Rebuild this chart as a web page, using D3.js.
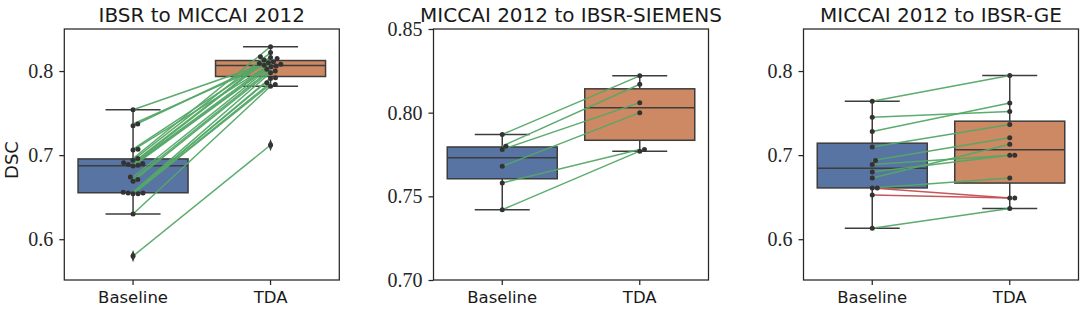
<!DOCTYPE html>
<html>
<head>
<meta charset="utf-8">
<script src="https://cdn.jsdelivr.net/npm/d3@7/dist/d3.min.js"></script>
<style>
  body { margin: 0; background: #fff; }
</style>
</head>
<body>
<svg id="chart"></svg>
<script>
const groups = ["Baseline", "TDA"];

// one value per subject, same subject order in the baseline and TDA arrays
const ibsrToMiccaiBaseline = [0.754, 0.737, 0.735, 0.707, 0.706, 0.696, 0.694, 0.691, 0.690, 0.689, 0.688,
                              0.687, 0.674, 0.671, 0.669, 0.656, 0.655, 0.655, 0.654, 0.654, 0.630, 0.580];
const ibsrToMiccaiTda = [0.811, 0.810, 0.813, 0.815, 0.808, 0.829, 0.822, 0.817, 0.816, 0.809, 0.807,
                         0.806, 0.805, 0.802, 0.800, 0.798, 0.792, 0.791, 0.786, 0.784, 0.782, 0.712];

const miccaiToSiemensBaseline = [0.787, 0.780, 0.778, 0.768, 0.758, 0.742];
const miccaiToSiemensTda = [0.822, 0.817, 0.806, 0.800, 0.778, 0.777];

const miccaiToGeBaseline = [0.764, 0.745, 0.728, 0.7096, 0.6935, 0.689, 0.680, 0.6727, 0.661, 0.661, 0.6526, 0.613];
const miccaiToGeTda = [0.7946, 0.752, 0.762, 0.7365, 0.7206, 0.700, 0.700, 0.713, 0.6727, 0.649, 0.649, 0.6366];

const wideDomain = [0.5515, 0.85];
const wideTicks = [0.6, 0.7, 0.8];
const narrowDomain = [0.70, 0.85];
const narrowTicks = [0.70, 0.75, 0.80, 0.85];

const width = 1084;
const height = 314;
const plotTop = 29, plotBottom = 280, panelWidth = 275;

const panels = [
    { title: "IBSR to MICCAI 2012", base: ibsrToMiccaiBaseline, tda: ibsrToMiccaiTda,
      domain: wideDomain, ticks: wideTicks, fmt: ".1f", left: 64.3 },
    { title: "MICCAI 2012 to IBSR-SIEMENS", base: miccaiToSiemensBaseline, tda: miccaiToSiemensTda,
      domain: narrowDomain, ticks: narrowTicks, fmt: ".2f", left: 433.5 },
    { title: "MICCAI 2012 to IBSR-GE", base: miccaiToGeBaseline, tda: miccaiToGeTda,
      domain: wideDomain, ticks: wideTicks, fmt: ".1f", left: 803.5 }
];

const boxColors = ["#5874a3", "#cc8963"];
const edge = "#3d3d3d";
const up = "#55a868", down = "#c44e52";
const r = 2.5;
const serif = "'Liberation Serif', 'Times New Roman', 'DejaVu Serif', serif";
const sans = "'DejaVu Sans', sans-serif";

const svg = d3.select("#chart").attr("width", width).attr("height", height);

// beeswarm: each point goes to the smallest offset that does not overlap earlier ones
function swarm(values, y) {
    const placed = [];
    const pts = values.map(v => ({ v, y: y(v) })).sort((a, b) => b.y - a.y);
    pts.forEach(p => {
        const near = placed.filter(q => Math.abs(q.y - p.y) < 2 * r);
        const cands = [0];
        near.forEach(q => {
            const dx = Math.sqrt(4 * r * r - (q.y - p.y) ** 2);
            cands.push(q.dx + dx, q.dx - dx);
        });
        cands.sort((a, b) => Math.abs(a) - Math.abs(b));
        p.dx = cands.find(c => near.every(q => (q.dx - c) ** 2 + (q.y - p.y) ** 2 >= 4 * r * r - 0.01));
        placed.push(p);
    });
    return pts;
}

function boxStats(values) {
    const s = values.slice().sort(d3.ascending);
    const q1 = d3.quantile(s, 0.25), med = d3.quantile(s, 0.5), q3 = d3.quantile(s, 0.75);
    const iqr = q3 - q1;
    const lo = d3.min(s.filter(v => v >= q1 - 1.5 * iqr));
    const hi = d3.max(s.filter(v => v <= q3 + 1.5 * iqr));
    const fliers = s.filter(v => v < lo || v > hi);
    return { q1, med, q3, lo, hi, fliers };
}

panels.forEach(p => {
    const x = d3.scaleBand().domain(groups).range([p.left, p.left + panelWidth]).paddingInner(0).paddingOuter(0);
    const cx = g => x(g) + x.bandwidth() / 2;
    const y = d3.scaleLinear().domain(p.domain).range([plotBottom, plotTop]);
    const g = svg.append("g");
    const boxW = x.bandwidth() * 0.8;

    [p.base, p.tda].forEach((vals, i) => {
        const st = boxStats(vals);
        const c = cx(groups[i]);
        g.append("line").attr("x1", c).attr("x2", c).attr("y1", y(st.q3)).attr("y2", y(st.hi))
            .attr("stroke", edge).attr("stroke-width", 1.5);
        g.append("line").attr("x1", c).attr("x2", c).attr("y1", y(st.q1)).attr("y2", y(st.lo))
            .attr("stroke", edge).attr("stroke-width", 1.5);
        [st.lo, st.hi].forEach(v => {
            g.append("line").attr("x1", c - boxW / 4).attr("x2", c + boxW / 4).attr("y1", y(v)).attr("y2", y(v))
                .attr("stroke", edge).attr("stroke-width", 1.5);
        });
        g.append("rect").attr("x", c - boxW / 2).attr("width", boxW)
            .attr("y", y(st.q3)).attr("height", y(st.q1) - y(st.q3))
            .attr("fill", boxColors[i]).attr("stroke", edge).attr("stroke-width", 1.5);
        g.append("line").attr("x1", c - boxW / 2).attr("x2", c + boxW / 2).attr("y1", y(st.med)).attr("y2", y(st.med))
            .attr("stroke", edge).attr("stroke-width", 1.5);
        st.fliers.forEach(v => {
            g.append("path").attr("d", d3.symbol(d3.symbolDiamond, 30)())
                .attr("transform", `translate(${c},${y(v)}) scale(0.8,1.2)`).attr("fill", edge);
        });
    });

    // paired lines, green if TDA improved, red otherwise
    p.base.forEach((b, i) => {
        const t = p.tda[i];
        g.append("line").attr("x1", cx(groups[0])).attr("y1", y(b)).attr("x2", cx(groups[1])).attr("y2", y(t))
            .attr("stroke", t >= b ? up : down).attr("stroke-width", 1.5).attr("opacity", 0.95);
    });

    [p.base, p.tda].forEach((vals, i) => {
        g.selectAll(null).data(swarm(vals, y)).enter().append("circle")
            .attr("cx", d => cx(groups[i]) + d.dx).attr("cy", d => d.y).attr("r", r).attr("fill", "#333");
    });

    // frame
    g.append("rect").attr("x", p.left).attr("y", plotTop).attr("width", panelWidth).attr("height", plotBottom - plotTop)
        .attr("fill", "none").attr("stroke", "#262626").attr("stroke-width", 1.25);

    const yAxis = g.append("g").attr("transform", `translate(${p.left},0)`)
        .call(d3.axisLeft(y).tickValues(p.ticks).tickFormat(d3.format(p.fmt)).tickSize(5).tickPadding(6));
    yAxis.attr("font-family", null).attr("font-size", null);
    yAxis.select(".domain").remove();
    yAxis.selectAll("line").attr("stroke", "#262626").attr("stroke-width", 1.25);
    yAxis.selectAll("text").style("font-family", serif).style("font-size", "20px")
        .attr("fill", "#262626");

    const xAxis = g.append("g").attr("transform", `translate(0,${plotBottom})`)
        .call(d3.axisBottom(x).tickSize(5).tickPadding(6));
    xAxis.attr("font-family", null).attr("font-size", null);
    xAxis.select(".domain").remove();
    xAxis.selectAll("line").attr("stroke", "#262626").attr("stroke-width", 1.25);
    xAxis.selectAll("text").style("font-family", sans).style("font-size", "16.5px")
        .attr("fill", "#1a1a1a");

    g.append("text").attr("x", p.left + panelWidth / 2).attr("y", 22).attr("text-anchor", "middle")
        .style("font-family", sans).style("font-size", "20px").attr("fill", "#1a1a1a")
        .text(p.title);
});

svg.append("text").attr("transform", "translate(18,160) rotate(-90)").attr("text-anchor", "middle")
    .style("font-family", sans).style("font-size", "18px").attr("fill", "#1a1a1a")
    .text("DSC");
</script>
</body>
</html>
